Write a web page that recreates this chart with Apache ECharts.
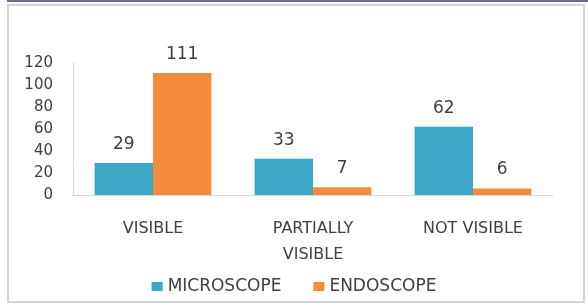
<!DOCTYPE html>
<html><head><meta charset="utf-8">
<script src="https://cdn.jsdelivr.net/npm/echarts@6/dist/echarts.min.js"></script>
<style>html,body{margin:0;padding:0;background:#fff}#c{width:588px;height:308px}
#frame{position:absolute;left:7px;top:4px;width:578px;height:299px;border:2px solid #d4d4d4;box-sizing:border-box;pointer-events:none}
#topline{position:absolute;left:7px;top:0;width:581px;height:2px;background:#6e6a8c}</style>
</head><body>
<div id="c"></div><div id="frame"></div><div id="topline"></div>
<script>
const categories = ['VISIBLE', 'PARTIALLY\nVISIBLE', 'NOT VISIBLE'];
const microscope = [29, 33, 62];
const endoscope = [111, 7, 6];
const yTicks = [0, 20, 40, 60, 80, 100, 120];

const FONT = 'DejaVu Sans';
const TXT = '#404040';
const chart = echarts.init(document.getElementById('c'));
const lbl = {show: true, position: 'top', color: TXT, fontSize: 17, fontFamily: FONT, distance: 10};
chart.setOption({
  animation: false,
  textStyle: {fontFamily: FONT},
  grid: {left: 73, right: 35, top: 63, bottom: 113},
  legend: {
    top: 273, left: 'center', itemWidth: 11, itemHeight: 9, itemGap: 32,
    icon: 'rect',
    textStyle: {color: TXT, fontSize: 17, fontFamily: FONT},
    data: ['MICROSCOPE', 'ENDOSCOPE']
  },
  xAxis: {
    type: 'category', data: categories,
    axisLine: {lineStyle: {color: '#d9d9d9'}},
    axisTick: {show: false},
    axisLabel: {color: TXT, fontSize: 16, fontFamily: FONT, margin: 21, lineHeight: 26}
  },
  yAxis: {
    type: 'value', min: yTicks[0], max: yTicks[yTicks.length - 1], interval: 20,
    axisLine: {show: true, lineStyle: {color: '#d9d9d9'}},
    axisTick: {show: false},
    splitLine: {show: false},
    axisLabel: {color: TXT, fontSize: 15, fontFamily: FONT, margin: 20}
  },
  series: [
    {name: 'MICROSCOPE', type: 'bar', data: microscope, barGap: '0%', barCategoryGap: '27%',
     itemStyle: {color: '#3ba6c6'}, label: lbl},
    {name: 'ENDOSCOPE', type: 'bar', data: endoscope,
     itemStyle: {color: '#f48d3b'}, label: lbl}
  ]
});
</script></body></html>
